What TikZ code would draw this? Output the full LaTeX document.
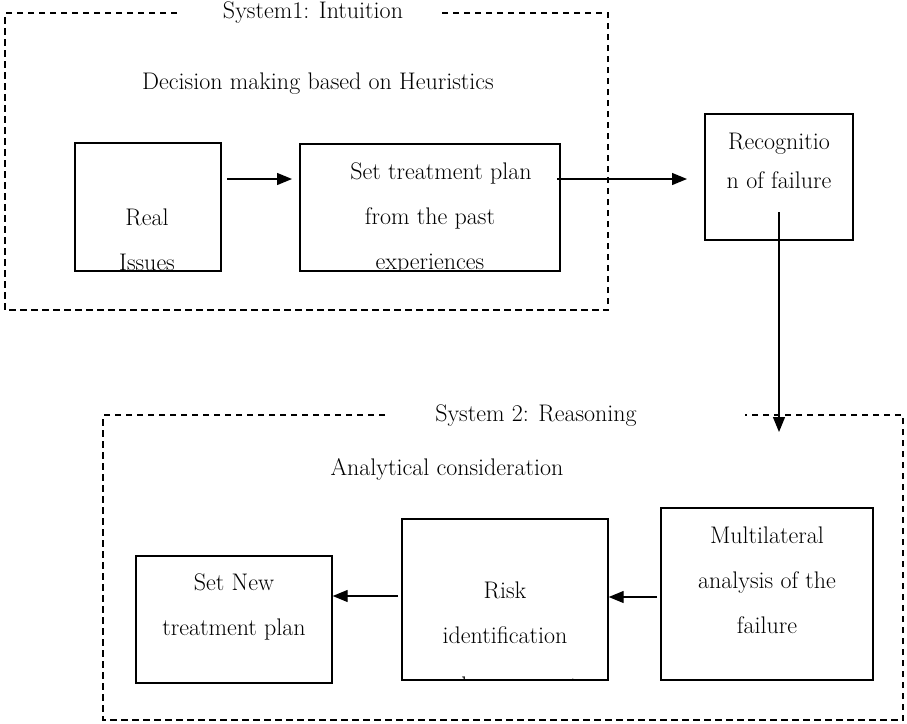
\documentclass[tikz,border=0pt]{standalone}
\usetikzlibrary{arrows.meta}
\begin{document}
\begin{tikzpicture}[x=1pt,y=1pt,
  box/.style={draw, line width=1.4pt, inner sep=0pt},
  frame/.style={line width=1.2pt, dash pattern=on 6.5pt off 4.5pt},
  arr/.style={line width=1.3pt, -{Triangle[length=15pt,width=12pt]}},
  txt/.style={font=\fontsize{24}{28}\selectfont, inner sep=0pt, anchor=base}]
\useasboundingbox (0,0) rectangle (907,-723);

% frames
\node[txt] (t1) at (313,-18) {System1: Intuition};
\node[txt] (dec) at (318,-89) {Decision making based on Heuristics};
\draw[frame] (177,-13) -- (5,-13) -- (5,-310) -- (608,-310) -- (608,-13) -- (438,-13);

\node[txt] (t2) at (536,-421) {System 2: Reasoning};
\node[txt] (ana) at (447,-475) {Analytical consideration};
\draw[frame] (385,-415) -- (103,-415) -- (103,-720) -- (903,-720) -- (903,-415) -- (745,-415);

% boxes
\node[box, minimum width=146pt, minimum height=128pt] (real) at (148,-207) {};
\node[box, minimum width=260pt, minimum height=127pt] (set) at (430,-207.5) {};
\node[box, minimum width=148pt, minimum height=126pt] (recog) at (779,-177) {};
\node[box, minimum width=196pt, minimum height=127pt] (setnew) at (234,-619.5) {};
\node[box, minimum width=206pt, minimum height=161pt] (risk) at (505,-599.5) {};
\node[box, minimum width=212pt, minimum height=172pt] (multi) at (767,-594) {};

% box texts (clipped by their boxes)
\begin{scope}
\clip (real.south west) rectangle (real.north east);
\node[txt] (realA) at (147,-225) {Real};
\node[txt] (realB) at (147,-270) {Issues};
\end{scope}
\begin{scope}
\clip (set.south west) rectangle (set.north east);
\node[txt] (setA) at (441,-179) {Set treatment plan};
\node[txt] (setB) at (430,-224) {from the past};
\node[txt] (setC) at (430,-269) {experiences};
\end{scope}
\begin{scope}
\clip (recog.south west) rectangle (recog.north east);
\node[txt] (recA) at (779,-149) {Recognitio};
\node[txt] (recB) at (779,-188) {n of failure};
\end{scope}
\begin{scope}
\clip (setnew.south west) rectangle (setnew.north east);
\node[txt] (snA) at (234,-590) {Set New};
\node[txt] (snB) at (234,-635) {treatment plan};
\end{scope}
\begin{scope}
\clip (risk.south west) rectangle (risk.north east);
\node[txt] (riA) at (505,-598) {Risk};
\node[txt] (riB) at (505,-643) {identification};
\node[txt] (riC) at (505,-693) {and assessment};
\end{scope}
\begin{scope}
\clip (multi.south west) rectangle (multi.north east);
\node[txt] (muA) at (767,-543) {Multilateral};
\node[txt] (muB) at (767,-588) {analysis of the};
\node[txt] (muC) at (767,-633) {failure};
\end{scope}

% connectors
\coordinate (c1s) at (227,-179);
\coordinate (c1e) at (292,-179);
\coordinate (c2s) at (557,-179);
\coordinate (c2e) at (687,-179);
\coordinate (c3s) at (779,-212);
\coordinate (c3e) at (779,-432);
\coordinate (c4s) at (398,-596);
\coordinate (c5s) at (657,-597);
\draw[arr] (c1s) -- (c1e);
\draw[arr] (c2s) -- (c2e);
\draw[arr] (c3s) -- (c3e);
\draw[arr] (c4s) -- (setnew.east |- c4s);
\draw[arr] (c5s) -- (risk.east |- c5s);
\end{tikzpicture}
\end{document}
